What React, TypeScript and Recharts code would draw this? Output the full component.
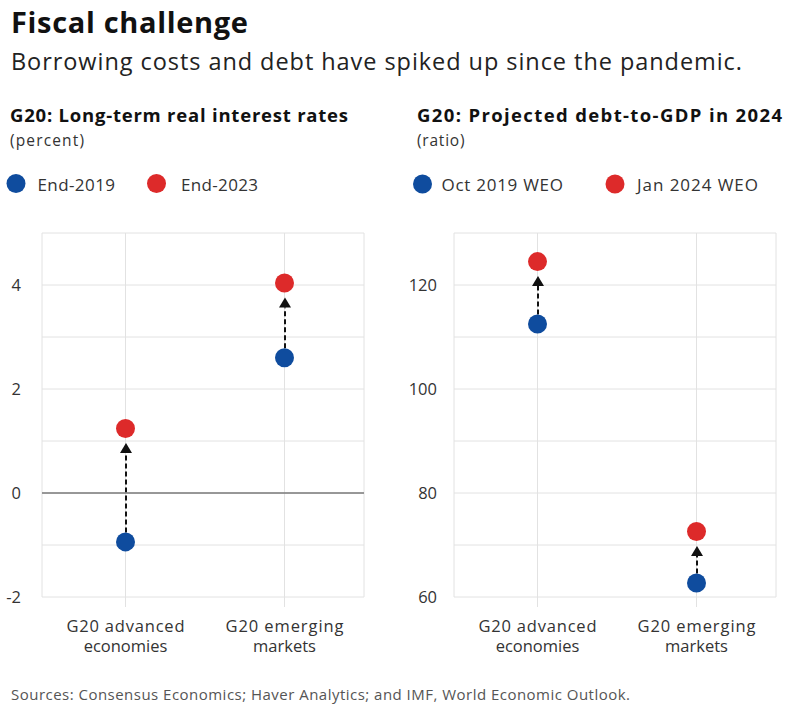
import React from "react";
import {
  ComposedChart,
  Bar,
  Line,
  XAxis,
  YAxis,
  CartesianGrid,
  ReferenceLine,
} from "recharts";

const categories = ["G20 advanced economies", "G20 emerging markets"];

// left panel: long-term real interest rates (percent)
const rates2019 = [-0.94, 2.6];
const rates2023 = [1.24, 4.04];
const rateTicks = [-2, -1, 0, 1, 2, 3, 4, 5];
const rateLabels = [-2, 0, 2, 4];

// right panel: projected debt-to-GDP in 2024
const debtOct2019 = [112.5, 62.7];
const debtJan2024 = [124.5, 72.6];
const debtTicks = [60, 70, 80, 90, 100, 110, 120, 130];
const debtLabels = [60, 80, 100, 120];

const BLUE = "#0f4c9e";
const RED = "#dd2a2a";
const FONT = "'Open Sans', sans-serif";
const DOT_R = 9.5;

const leftData = categories.map((name, i) => ({
  name,
  start: rates2019[i],
  end: rates2023[i],
}));
const rightData = categories.map((name, i) => ({
  name,
  start: debtOct2019[i],
  end: debtJan2024[i],
}));

// dashed arrow from the earlier dot up to the later dot
const ArrowShape = (props: any) => {
  const { x, y, width, height } = props;
  const cx = x + width / 2;
  const top = Math.min(y, y + height);
  const bottom = Math.max(y, y + height);
  const tip = top + DOT_R + 5;
  const base = tip + 10;
  const from = bottom - DOT_R;
  return (
    <g>
      {from > base && (
        <line
          x1={cx}
          y1={from}
          x2={cx}
          y2={base}
          stroke="#111"
          strokeWidth={2}
          strokeDasharray="5 3"
        />
      )}
      <polygon
        points={`${cx},${tip} ${cx - 6},${base} ${cx + 6},${base}`}
        fill="#111"
      />
    </g>
  );
};

const CategoryTick = (props: any) => {
  const { x, y, payload } = props;
  const words = String(payload.value).split(" ");
  const line1 = words.slice(0, 2).join(" ");
  const line2 = words.slice(2).join(" ");
  return (
    <g>
      <text
        x={x}
        y={y + 22.5}
        textAnchor="middle"
        fill="#333"
        fontSize={16.5}
        fontFamily={FONT}
        textLength={118}
        lengthAdjust="spacing"
      >
        {line1}
      </text>
      <text x={x} y={y + 42.5} textAnchor="middle" fill="#333" fontSize={16.5} fontFamily={FONT}>
        {line2}
      </text>
    </g>
  );
};

const Panel = ({
  data,
  ticks,
  labels,
  domain,
  yWidth,
  labelRight,
  zeroLine,
}: {
  data: any[];
  ticks: number[];
  labels: number[];
  domain: [number, number];
  yWidth: number;
  labelRight: number;
  zeroLine?: boolean;
}) => (
  <ComposedChart
    width={yWidth + 322 + 17}
    height={670}
    data={data}
    margin={{ top: 233, right: 17, left: 0, bottom: 0 }}
  >
    <CartesianGrid stroke="#e2e2e2" strokeWidth={1} />
    <XAxis
      dataKey="name"
      axisLine={false}
      tickLine={{ stroke: "#e2e2e2" }}
      tickSize={10}
      tick={<CategoryTick />}
      interval={0}
      padding={{ left: 4, right: 0 }}
      height={73}
    />
    <YAxis
      domain={domain}
      ticks={ticks}
      interval={0}
      width={yWidth}
      axisLine={false}
      tickLine={false}
      tickMargin={yWidth - labelRight}
      tick={{ fill: "#333", fontSize: 16.5, fontFamily: FONT }}
      tickFormatter={(v: number) => (labels.includes(v) ? String(v) : "")}
    />
    {zeroLine && <ReferenceLine y={0} stroke="#7a7a7a" strokeWidth={1.5} />}
    <Bar
      dataKey={(d: any) => [d.start, d.end]}
      barSize={12}
      shape={<ArrowShape />}
      isAnimationActive={false}
    />
    <Line
      dataKey="start"
      stroke="none"
      dot={{ r: DOT_R, fill: BLUE, stroke: BLUE, strokeWidth: 0 }}
      activeDot={false}
      isAnimationActive={false}
    />
    <Line
      dataKey="end"
      stroke="none"
      dot={{ r: DOT_R, fill: RED, stroke: RED, strokeWidth: 0 }}
      activeDot={false}
      isAnimationActive={false}
    />
  </ComposedChart>
);

const Label = ({
  x,
  y,
  size,
  w,
  bold,
  fill = "#333",
  children,
}: {
  x: number;
  y: number;
  size: number;
  w: number;
  bold?: boolean;
  fill?: string;
  children: React.ReactNode;
}) => (
  <text
    x={x}
    y={y}
    fontSize={size}
    fontWeight={bold ? 700 : 400}
    fill={fill}
    fontFamily={FONT}
    textLength={w}
    lengthAdjust="spacing"
  >
    {children}
  </text>
);

const App = () => {
  return (
    <div
      style={{
        position: "absolute",
        left: 0,
        top: 0,
        width: 800,
        height: 706,
        background: "#fff",
        fontFamily: FONT,
      }}
    >
      <svg
        width={800}
        height={706}
        style={{ position: "absolute", left: 0, top: 0 }}
      >
        <Label x={11} y={33} size={29} w={237} bold fill="#111">
          Fiscal challenge
        </Label>
        <Label x={11} y={69.5} size={23.5} w={731} fill="#222">
          Borrowing costs and debt have spiked up since the pandemic.
        </Label>

        <Label x={10} y={122} size={18.5} w={338} bold fill="#111">
          G20: Long-term real interest rates
        </Label>
        <Label x={10} y={146} size={15.5} w={74}>
          (percent)
        </Label>
        <circle cx={16} cy={183.5} r={DOT_R} fill={BLUE} />
        <Label x={37.5} y={190.5} size={17} w={77.5}>
          End-2019
        </Label>
        <circle cx={156.5} cy={183.5} r={DOT_R} fill={RED} />
        <Label x={181} y={190.5} size={17} w={77}>
          End-2023
        </Label>

        <Label x={417} y={122} size={18.5} w={365} bold fill="#111">
          G20: Projected debt-to-GDP in 2024
        </Label>
        <Label x={417} y={146} size={15.5} w={47.5}>
          (ratio)
        </Label>
        <circle cx={422.5} cy={184} r={DOT_R} fill={BLUE} />
        <Label x={441.5} y={190.5} size={17} w={121.5}>
          Oct 2019 WEO
        </Label>
        <circle cx={615} cy={184} r={DOT_R} fill={RED} />
        <Label x={637} y={190.5} size={17} w={121}>
          Jan 2024 WEO
        </Label>

        <Label x={11} y={700} size={15} w={619} fill="#555">
          Sources: Consensus Economics; Haver Analytics; and IMF, World Economic Outlook.
        </Label>
      </svg>

      <div style={{ position: "absolute", left: 0, top: 0 }}>
        <Panel
          data={leftData}
          ticks={rateTicks}
          labels={rateLabels}
          domain={[-2, 5]}
          yWidth={42}
          labelRight={27}
          zeroLine
        />
      </div>
      <div style={{ position: "absolute", left: 400, top: 0 }}>
        <Panel
          data={rightData}
          ticks={debtTicks}
          labels={debtLabels}
          domain={[60, 130]}
          yWidth={54}
          labelRight={43}
        />
      </div>
    </div>
  );
};

export default App;
